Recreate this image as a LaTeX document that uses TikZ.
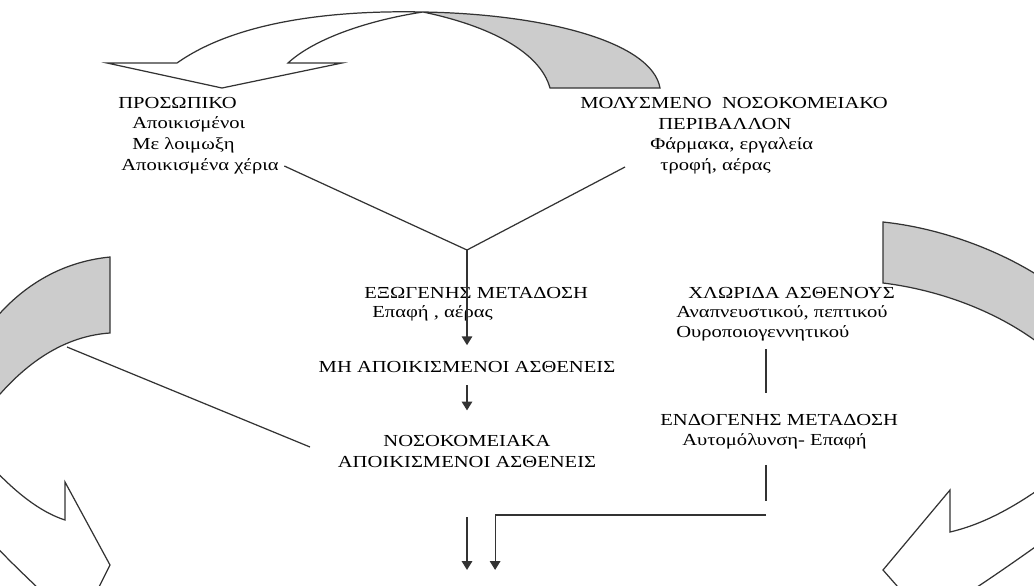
\documentclass[tikz,border=0pt]{standalone}
\usepackage{fontspec}
\setmainfont{Liberation Serif}[FakeStretch=1.22]
\usetikzlibrary{arrows.meta,positioning,calc}

\begin{document}
\begin{tikzpicture}[x=0.02cm,y=-0.02cm,>={Triangle[width=6pt,length=5pt]}]
\tikzstyle{t}=[inner sep=0pt,font=\fontsize{9.6}{12}\selectfont,text=black]
\tikzstyle{ln}=[draw=black!80,line width=0.7pt]
\tikzstyle{band}=[ln,fill=gray!40]
\clip (0,0) rectangle (1034,585);
% cycle arrows
\draw[ln,fill=white] (107,63) -- (177,63) .. controls (235,22) and (330,10) .. (423,12) .. controls (370,20) and (315,38) .. (288,63) -- (342,63) -- (222,88) -- cycle;
\draw[band] (423,12) .. controls (545,14) and (652,42) .. (660,88) -- (550,88) .. controls (540,52) and (490,26) .. cycle;
\draw[band] (110,257) -- (110,333) .. controls (65,336) and (25,362) .. (-10,406) -- (-10,325) .. controls (20,287) and (60,262) .. cycle;
\draw[ln] (-10,465) .. controls (15,492) and (40,512) .. (65,520) -- (65,482) -- (110,565) -- (95,595);
\draw[ln] (-10,540) .. controls (10,562) and (30,580) .. (45,595);
\draw[band] (883,222) -- (883,283) .. controls (940,290) and (1000,312) .. (1045,348) -- (1045,280) .. controls (1000,250) and (940,228) .. cycle;
\draw[ln] (1045,485) .. controls (1010,510) and (980,525) .. (950,532) -- (950,490) -- (883,570) -- (905,595);
\draw[ln] (1045,540) .. controls (1010,565) and (985,582) .. (965,595);
% texts
\node[t,anchor=west] (pr) at (118,103) {ΠΡΟΣΩΠΙΚΟ};
\node[t,anchor=west] (pr1) at (132,124) {Αποικισμένοι};
\node[t,anchor=west] (pr2) at (132,145) {Με λοιμωξη};
\node[t,anchor=west] (pr3) at (121,166) {Αποικισμένα χέρια};
\node[t,anchor=west] (mo) at (580,103) {ΜΟΛΥΣΜΕΝΟ\ \ ΝΟΣΟΚΟΜΕΙΑΚΟ};
\node[t,anchor=west] (mo1) at (658,124) {ΠΕΡΙΒΑΛΛΟΝ};
\node[t,anchor=west] (mo2) at (650,145) {Φάρμακα, εργαλεία};
\node[t,anchor=west] (mo3) at (660,166) {τροφή, αέρας};
\node[t,anchor=west] (ex) at (364,293) {ΕΞΩΓΕΝΗΣ ΜΕΤΑΔΟΣΗ};
\node[t,anchor=west] (ex1) at (372,313) {Επαφή , αέρας};
\node[t,anchor=west] (ch) at (688,293) {ΧΛΩΡΙΔΑ ΑΣΘΕΝΟΥΣ};
\node[t,anchor=west] (ch1) at (676,313) {Αναπνευστικού, πεπτικού};
\node[t,anchor=west] (ch2) at (676,333) {Ουροποιογεννητικού};
\node[t] (mh) at (467,367) {ΜΗ ΑΠΟΙΚΙΣΜΕΝΟΙ ΑΣΘΕΝΕΙΣ};
\node[t,anchor=west] (en) at (660,420) {ΕΝΔΟΓΕΝΗΣ ΜΕΤΑΔΟΣΗ};
\node[t,anchor=west] (en1) at (682,441) {Αυτομόλυνση- Επαφή};
\node[t] (no) at (467,441) {ΝΟΣΟΚΟΜΕΙΑΚΑ};
\node[t] (no1) at (467,462) {ΑΠΟΙΚΙΣΜΕΝΟΙ ΑΣΘΕΝΕΙΣ};
% connectors
\coordinate (v) at (467,250);
\coordinate (m) at (625,167);
\coordinate (k) at (766,0);
\coordinate (h) at (766,515);
\coordinate (l1) at (67,347);
\coordinate (l2) at (310,447);
\draw[ln] ([xshift=3pt]pr3.east) -- (v);
\draw[ln] (m) -- (v);
\draw[ln,->] (v) -- ([yshift=9pt]mh.north);
\draw[ln,->] ([yshift=-7pt]mh.south) -- ([yshift=14pt]no.north);
\draw[ln] (l1) -- (l2);
\draw[ln] (ch2.south -| k) ++(0,8) -- ([yshift=12pt]en.north -| k);
\draw[ln] ([yshift=-9pt]en1.south -| k) -- ([yshift=8pt]h);
\draw[ln,->] (h) -| ([xshift=16pt,yshift=-58pt]no1.south);
\draw[ln,->] ([yshift=-28pt]no1.south) -- ([yshift=-58pt]no1.south);
\end{tikzpicture}
\end{document}
